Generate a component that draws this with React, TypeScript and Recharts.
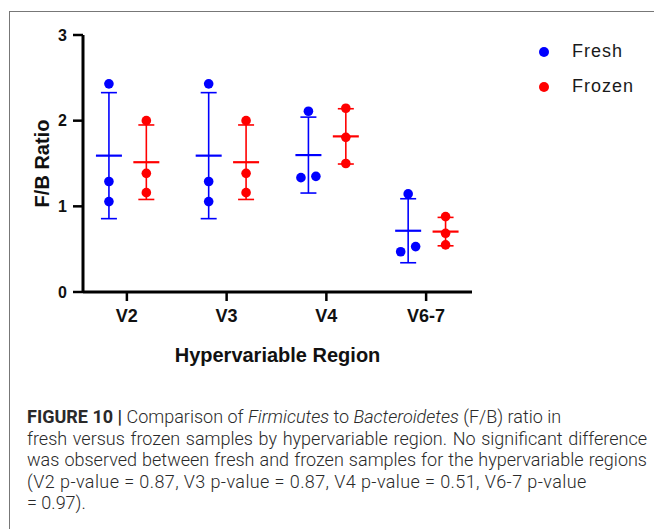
import React from 'react';
import { ComposedChart, Scatter, ErrorBar, XAxis, YAxis } from 'recharts';

const regions = ['V2', 'V3', 'V4', 'V6-7'];
const freshValues = [
  [2.43, 1.29, 1.055],
  [2.43, 1.29, 1.055],
  [2.11, 1.35, 1.335],
  [1.145, 0.47, 0.53],
];
const frozenValues = [
  [2.0, 1.385, 1.16],
  [2.0, 1.385, 1.16],
  [2.145, 1.805, 1.5],
  [0.88, 0.685, 0.55],
];
// horizontal scatter of overlapping points (category units)
const freshJitter = [
  [0, 0, 0],
  [0, 0, 0],
  [0, 0.075, -0.075],
  [0, -0.075, 0.075],
];
const frozenJitter = [
  [0, 0, 0],
  [0, 0, 0],
  [0, 0, 0],
  [0, 0, 0],
];
const yTicks = [0, 1, 2, 3];

const FRESH = '#0000ff';
const FROZEN = '#ff0000';
const FRESH_OFFSET = -0.18;
const FROZEN_OFFSET = 0.195;

const mean = (v: number[]) => v.reduce((a, b) => a + b, 0) / v.length;
const sd = (v: number[]) => {
  const m = mean(v);
  return Math.sqrt(v.reduce((a, b) => a + (b - m) ** 2, 0) / (v.length - 1));
};

const points = (values: number[][], jitter: number[][], offset: number) =>
  values.flatMap((vals, i) => vals.map((y, j) => ({ x: i + 1 + offset + jitter[i][j], y })));

const summary = (values: number[][], offset: number) =>
  values.map((vals, i) => ({ x: i + 1 + offset, y: mean(vals), sd: sd(vals) }));

const freshPoints = points(freshValues, freshJitter, FRESH_OFFSET);
const frozenPoints = points(frozenValues, frozenJitter, FROZEN_OFFSET);
const freshSummary = summary(freshValues, FRESH_OFFSET);
const frozenSummary = summary(frozenValues, FROZEN_OFFSET);

const MeanLine = (color: string) => (props: any) => {
  const { cx, cy } = props;
  return <line x1={cx - 13} x2={cx + 13} y1={cy} y2={cy} stroke={color} strokeWidth={2.2} />;
};

const Dot = (color: string) => (props: any) => {
  const { cx, cy } = props;
  return <circle cx={cx} cy={cy} r={4.8} fill={color} />;
};

const LegendBox = () => (
  <div style={{ fontFamily: 'Liberation Sans, Arial, sans-serif', fontSize: 18, color: '#1a1a1a' }}>
    {[
      { name: 'Fresh', color: FRESH },
      { name: 'Frozen', color: FROZEN },
    ].map((it) => (
      <div key={it.name} style={{ display: 'flex', alignItems: 'center', height: 35 }}>
        <svg width={12} height={12} style={{ marginRight: 22 }}>
          <circle cx={6} cy={6} r={5} fill={it.color} />
        </svg>
        <span style={{ letterSpacing: 1 }}>{it.name}</span>
      </div>
    ))}
  </div>
);

const tickStyle = { fill: '#111', fontSize: 16, fontWeight: 700, fontFamily: 'Liberation Sans, Arial, sans-serif' };

export default function App() {
  return (
    <div style={{ position: 'absolute', left: 0, top: 0, width: 654, height: 529, background: '#fff' }}>
      <div style={{ position: 'absolute', left: 9, top: 11, width: 645, height: 518, borderTop: '1.5px solid #777', borderLeft: '1.5px solid #777' }} />
      <div style={{ position: 'absolute', left: 0, top: 0 }}>
        <ComposedChart width={654} height={380} margin={{ top: 35, right: 182, left: 0, bottom: 0 }}>
          <XAxis
            type="number"
            dataKey="x"
            domain={[0.56, 4.46]}
            ticks={[1, 2, 3, 4]}
            tickFormatter={(v: number) => regions[v - 1]}
            allowDataOverflow
            height={88}
            tickSize={9}
            tickMargin={8}
            axisLine={{ stroke: '#000', strokeWidth: 3 }}
            tickLine={{ stroke: '#000', strokeWidth: 2.5 }}
            tick={{ ...tickStyle, fontSize: 18 }}
            label={{ value: 'Hypervariable Region', position: 'center', dy: 19, style: { ...tickStyle, fontSize: 20 } }}
          />
          <YAxis
            type="number"
            dataKey="y"
            domain={[0, 3]}
            ticks={yTicks}
            width={83}
            tickSize={10}
            tickMargin={6}
            axisLine={{ stroke: '#000', strokeWidth: 3 }}
            tickLine={{ stroke: '#000', strokeWidth: 2.5 }}
            tick={tickStyle}
            label={{ value: 'F/B Ratio', angle: -90, position: 'center', dx: 0, style: { ...tickStyle, fontSize: 20, textAnchor: 'middle' } }}
          />
          <Scatter name="Fresh mean" data={freshSummary} shape={MeanLine(FRESH)} isAnimationActive={false} legendType="none">
            <ErrorBar dataKey="sd" direction="y" width={8} stroke={FRESH} strokeWidth={1.6} />
          </Scatter>
          <Scatter name="Frozen mean" data={frozenSummary} shape={MeanLine(FROZEN)} isAnimationActive={false} legendType="none">
            <ErrorBar dataKey="sd" direction="y" width={8} stroke={FROZEN} strokeWidth={1.6} />
          </Scatter>
          <Scatter name="Fresh" data={freshPoints} shape={Dot(FRESH)} isAnimationActive={false} />
          <Scatter name="Frozen" data={frozenPoints} shape={Dot(FROZEN)} isAnimationActive={false} />
        </ComposedChart>
      </div>
      <div style={{ position: 'absolute', left: 538, top: 34 }}>
        <LegendBox />
      </div>
      <div
        style={{
          position: 'absolute',
          left: 27,
          top: 406,
          width: 620,
          fontFamily: 'Roboto, sans-serif',
          fontWeight: 300,
          fontSize: 18,
          lineHeight: '21.5px',
          color: '#2a2a2a',
        }}
      >
        <div>
          <b style={{ fontWeight: 700 }}>FIGURE 10 |</b> Comparison of <i>Firmicutes</i> to <i>Bacteroidetes</i> (F/B) ratio in
        </div>
        <div style={{ textAlign: 'justify', textAlignLast: 'justify' }}>
          fresh versus frozen samples by hypervariable region. No significant difference
        </div>
        <div style={{ textAlign: 'justify', textAlignLast: 'justify' }}>
          was observed between fresh and frozen samples for the hypervariable regions
        </div>
        <div style={{ letterSpacing: 0.4 }}>(V2 p-value = 0.87, V3 p-value = 0.87, V4 p-value = 0.51, V6-7 p-value</div>
        <div>= 0.97).</div>
      </div>
    </div>
  );
}
